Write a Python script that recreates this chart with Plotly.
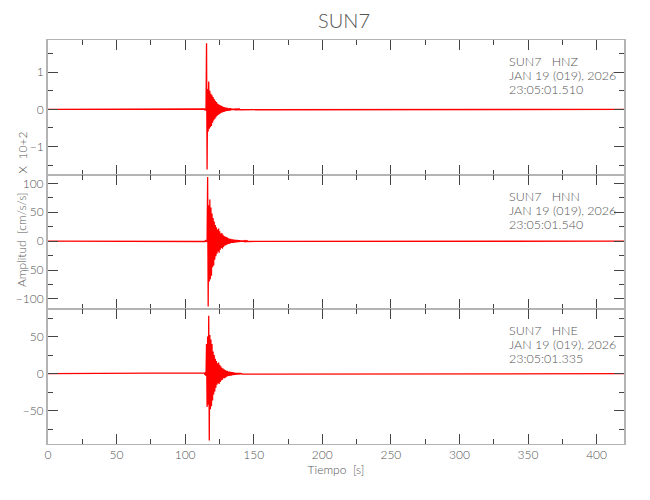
import plotly.graph_objects as go
from plotly.subplots import make_subplots

# sample grid of the event window (seconds)
t_start = 114.0
dt = 0.4
t_end = 420.0

# HNZ acceleration, units of 10^2 cm/s/s
hnz = [0.01, -0.02, 0.02, -0.03, 1.78, -1.62,
       0.55, -0.60, 0.75, -0.52, 0.50, -0.48, 0.42, -0.45, 0.38, -0.36,
       0.33, -0.30, 0.28, -0.26, 0.23, -0.22, 0.20, -0.18, 0.16, -0.15,
       0.14, -0.13, 0.12, -0.11, 0.10, -0.09, 0.09, -0.08, 0.07, -0.07,
       0.06, -0.06, 0.05, -0.05, 0.05, -0.04, 0.04, -0.04, 0.03, -0.03,
       0.03, -0.03, 0.03, -0.02, 0.02, -0.02, 0.02, -0.02, 0.02, -0.02,
       0.02, -0.01, 0.01, -0.01, 0.01, -0.01, 0.01, -0.01, 0.01, -0.01]

# HNN acceleration, cm/s/s
hnn = [0.5, -0.6, 0.8, -1.0, 1.2, -1.5, 111, -113,
       62, -70, 72, -66, 58, -60, 48, -45, 40, -42, 34, -32,
       28, -26, 24, -22, 20, -18, 22, -20, 17, -15, 13, -12,
       14, -13, 11, -10, 9, -8, 8, -7, 7, -6, 6, -5,
       5, -5, 4, -4, 4, -3, 3, -3, 3, -3, 2.5, -2.5, 2, -2, 2, -2,
       2, -1.5, 1.5, -1.5, 1.5, -1, 1, -1, 1, -1, 1, -1,
       0.8, -0.8, 0.8, -0.8, 0.6, -0.6, 0.6, -0.6]

# HNE acceleration, cm/s/s
hne = [1, -1.5, 2, -3, 40, -45, 50, -42, 78, -90,
       52, -48, 46, -44, 40, -36, 30, -28, 25, -24, 20, -19,
       17, -15, 14, -13, 15, -14, 12, -11, 10, -9, 8, -8,
       7, -6, 6, -6, 5, -5, 4, -4, 4, -3, 3, -3, 3, -2.5, 2.5, -2.5,
       2, -2, 2, -2, 1.5, -1.5, 1.5, -1.5, 1, -1,
       1, -1, 1, -1, 0.8, -0.8, 0.8, -0.8, 0.6, -0.6]

channels = ['HNZ', 'HNN', 'HNE']
start_times = ['23:05:01.510', '23:05:01.540', '23:05:01.335']
station = 'SUN7'
date_txt = 'JAN 19 (019), 2026'

FONT = 'Lato, sans-serif'
GREY = '#555555'
TICKC = '#444444'


def trace_xy(vals):
    xs = [0.0] + [t_start + i * dt for i in range(len(vals))] + [t_end]
    ys = [0.0] + list(vals) + [0.0]
    return xs, ys


fig = make_subplots(rows=3, cols=1, shared_xaxes=True, vertical_spacing=0)

for row, vals in enumerate([hnz, hnn, hne], start=1):
    xs, ys = trace_xy(vals)
    fig.add_trace(
        go.Scatter(x=xs, y=ys, mode='lines',
                   line=dict(color='#ff0000', width=1.3),
                   showlegend=False),
        row=row, col=1)

tick_font = dict(family=FONT, size=12, color=GREY, weight=300)
axis_common = dict(
    showline=True, linecolor='#b4b4b4', mirror='ticks',
    ticks='inside', ticklen=10, tickwidth=1, tickcolor=TICKC,
    showgrid=False, zeroline=False, automargin=False,
    tickfont=tick_font,
)

fig.update_xaxes(range=[0, 420], dtick=50, linewidth=1,
                 minor=dict(ticks='inside', ticklen=5, dtick=25, tickcolor=TICKC),
                 **axis_common)
fig.update_xaxes(title=dict(text='Tiempo  [s]', font=tick_font, standoff=3),
                 row=3, col=1)

y_specs = [([-1.76, 1.87], 1, 0.5), ([-118, 115], 50, 25), ([-94.7, 86.7], 50, 25)]
for row, (rng, major, minor) in enumerate(y_specs, start=1):
    fig.update_yaxes(range=rng, dtick=major, linewidth=2,
                     minor=dict(ticks='inside', ticklen=5, dtick=minor, tickcolor=TICKC),
                     row=row, col=1, **axis_common)

# channel header in the upper right of each panel, one line at a time
for row, (ch, st) in enumerate(zip(channels, start_times), start=1):
    yref = 'y domain' if row == 1 else f'y{row} domain'
    xref = 'x' if row == 1 else f'x{row}'
    lines = [f'{station}\u00a0\u00a0\u00a0{ch}', date_txt, st]
    for k, line in enumerate(lines):
        fig.add_annotation(
            x=335, y=0.84, xref=xref, yref=yref, xanchor='left', yanchor='middle',
            yshift=-14 * k, showarrow=False, text=line,
            font=dict(family=FONT, size=12.5, color=GREY, weight=300))

fig.add_annotation(x=-0.045, y=0.505, xref='paper', yref='paper', textangle=-90,
                   xanchor='center', yanchor='middle',
                   showarrow=False, text='Amplitud  [cm/s/s]', font=tick_font)
fig.add_annotation(x=-0.045, y=0.722, xref='paper', yref='paper', textangle=-90,
                   xanchor='center', yanchor='middle',
                   showarrow=False, text='X  10+2', font=tick_font)

fig.update_layout(
    width=650, height=500,
    margin=dict(l=40, r=34, t=32, b=64),
    paper_bgcolor='white', plot_bgcolor='white',
    title=dict(text=station, x=0.517, xanchor='center', y=0.974, yanchor='middle',
               font=dict(family=FONT, size=20, color=GREY, weight=300)),
)

fig.write_html("out.html")
